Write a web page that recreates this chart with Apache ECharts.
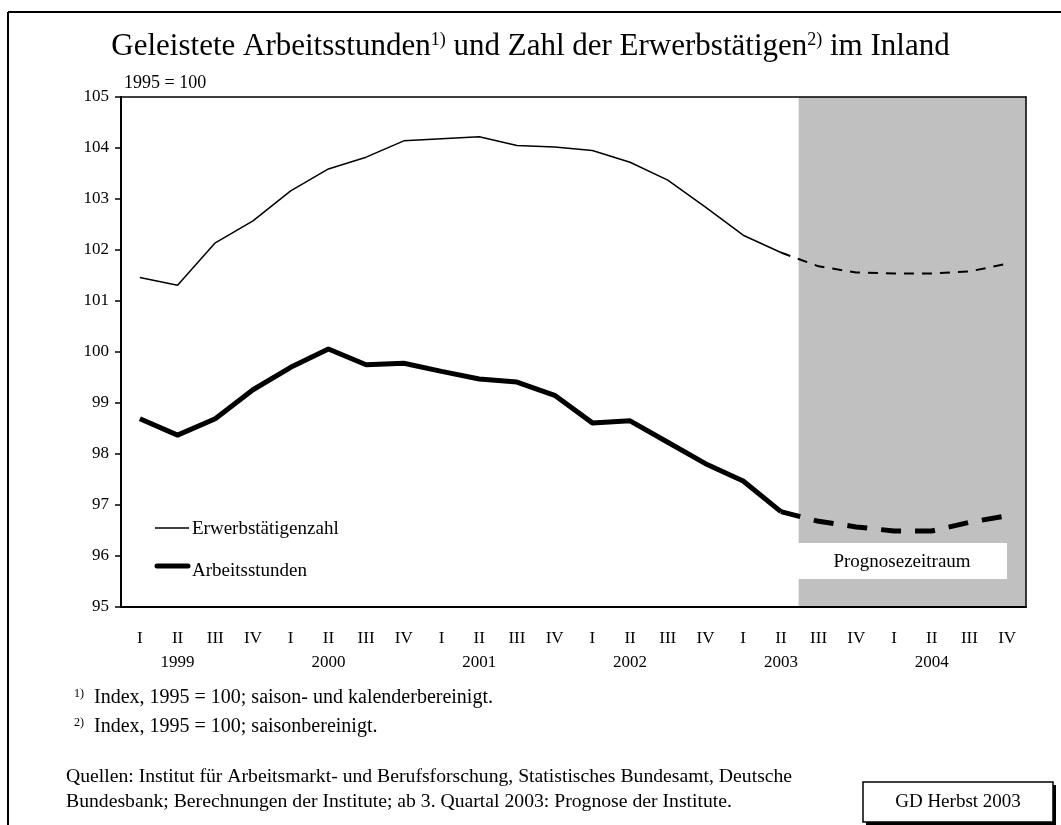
<!DOCTYPE html>
<html>
<head>
<meta charset="utf-8">
<script src="https://cdn.jsdelivr.net/npm/echarts@6/dist/echarts.min.js"></script>
<style>
  html, body { margin: 0; padding: 0; background: #fff; }
  #chart { width: 1061px; height: 825px; }
</style>
</head>
<body>
<div id="chart"></div>
<script>
var years = ['1999', '2000', '2001', '2002', '2003', '2004'];
var quarters = ['I', 'II', 'III', 'IV'];
var categories = [];
years.forEach(function (y) {
  quarters.forEach(function (q) { categories.push(y + ' ' + q); });
});

// Erwerbstätigenzahl, Index 1995 = 100
var erwerbstaetige = [101.46, 101.31, 102.14, 102.57, 103.16, 103.59, 103.82, 104.14,
  104.18, 104.22, 104.05, 104.02, 103.95, 103.72, 103.37, 102.84,
  102.29, 101.95, 101.68, 101.56, 101.54, 101.54, 101.58, 101.73];
// Arbeitsstunden, Index 1995 = 100
var arbeitsstunden = [98.69, 98.37, 98.69, 99.26, 99.70, 100.06, 99.75, 99.78,
  99.62, 99.47, 99.41, 99.15, 98.61, 98.65, 98.23, 97.81,
  97.47, 96.87, 96.68, 96.57, 96.49, 96.49, 96.66, 96.79];

var lastActual = 17; // 2003 II, danach Prognose

function part(arr, from, to) {
  return arr.map(function (v, i) { return (i >= from && i <= to) ? v : '-'; });
}
// grau hinterlegter Prognosezeitraum
var prognose = categories.map(function (c, i) { return i > lastActual ? 105 : '-'; });

var serif = '"Liberation Serif", "Times New Roman", serif';
var chart = echarts.init(document.getElementById('chart'));

var option = {
  backgroundColor: '#fff',
  animation: false,
  textStyle: { fontFamily: serif, color: '#000' },
  title: {
    text: 'Geleistete Arbeitsstunden{s|1)} und Zahl der Erwerbstätigen{s|2)} im Inland',
    left: 'center',
    top: 26,
    textStyle: {
      fontFamily: serif, fontSize: 31, fontWeight: 'normal', color: '#000',
      rich: { s: { fontFamily: serif, fontSize: 18, verticalAlign: 'top', color: '#000' } }
    }
  },
  grid: { left: 121, right: 35, top: 97, bottom: 218 },
  xAxis: [{
    type: 'category',
    data: categories,
    boundaryGap: true,
    axisLine: { lineStyle: { color: '#000', width: 2 } },
    axisTick: { lineStyle: { color: '#000', width: 1.5 }, length: 6 },
    axisLabel: {
      interval: 0,
      margin: 20,
      fontFamily: serif,
      fontSize: 17,
      color: '#000',
      lineHeight: 24,
      formatter: function (v) {
        var p = v.split(' ');
        return p[1] === 'II' ? p[1] + '\n' + p[0] : p[1] + '\n ';
      }
    },
    z: 5
  }, {
    type: 'category',
    position: 'top',
    data: categories,
    axisLine: { lineStyle: { color: '#000', width: 1.5 } },
    axisTick: { show: false },
    axisLabel: { show: false },
    z: 5
  }],
  yAxis: [{
    type: 'value',
    min: 95,
    max: 105,
    interval: 1,
    splitLine: { show: false },
    axisLine: { show: true, lineStyle: { color: '#000', width: 2 } },
    axisTick: { show: true, lineStyle: { color: '#000', width: 1.5 }, length: 6 },
    axisLabel: { fontFamily: serif, fontSize: 17, color: '#000', margin: 12 },
    z: 5
  }, {
    type: 'value',
    position: 'right',
    min: 95,
    max: 105,
    interval: 1,
    splitLine: { show: false },
    axisLine: { show: true, lineStyle: { color: '#000', width: 1.5 } },
    axisTick: { show: false },
    axisLabel: { show: false },
    z: 5
  }],
  series: [{
    name: 'Prognosezeitraum',
    type: 'bar',
    data: prognose,
    barWidth: '106%',
    silent: true,
    itemStyle: { color: '#c0c0c0' },
    z: 1
  }, {
    name: 'Erwerbstätigenzahl',
    type: 'line',
    data: part(erwerbstaetige, 0, lastActual),
    symbol: 'none',
    lineStyle: { color: '#000', width: 1.5 },
    z: 3
  }, {
    name: 'Erwerbstätigenzahl Prognose',
    type: 'line',
    data: part(erwerbstaetige, lastActual, 23),
    symbol: 'none',
    lineStyle: { color: '#000', width: 2, type: [10, 8] },
    z: 3
  }, {
    name: 'Arbeitsstunden',
    type: 'line',
    data: part(arbeitsstunden, 0, lastActual),
    symbol: 'none',
    lineStyle: { color: '#000', width: 5 },
    z: 3
  }, {
    name: 'Arbeitsstunden Prognose',
    type: 'line',
    data: part(arbeitsstunden, lastActual, 23),
    symbol: 'none',
    lineStyle: { color: '#000', width: 5, type: [20, 14] },
    z: 3
  }],
  graphic: [
    // Rahmen
    { type: 'line', shape: { x1: 8, y1: 12, x2: 1061, y2: 12 }, style: { stroke: '#000', lineWidth: 2 } },
    { type: 'line', shape: { x1: 8, y1: 12, x2: 8, y2: 825 }, style: { stroke: '#000', lineWidth: 2 } },
    { type: 'text', left: 124, top: 74, style: { text: '1995 = 100', font: '18px ' + serif, fill: '#000' } },
    // Legende
    { type: 'line', shape: { x1: 155, y1: 528, x2: 189, y2: 528 }, style: { stroke: '#000', lineWidth: 1.5 }, z: 10 },
    { type: 'text', left: 192, top: 520, style: { text: 'Erwerbstätigenzahl', font: '19px ' + serif, fill: '#000' }, z: 10 },
    { type: 'line', shape: { x1: 157, y1: 566, x2: 188, y2: 566 }, style: { stroke: '#000', lineWidth: 5, lineCap: 'round' }, z: 10 },
    { type: 'text', left: 192, top: 562, style: { text: 'Arbeitsstunden', font: '19px ' + serif, fill: '#000' }, z: 10 },
    // Prognosezeitraum
    { type: 'rect', shape: { x: 798, y: 543, width: 209, height: 36 }, style: { fill: '#fff' }, z: 10 },
    { type: 'text', x: 902, y: 562, style: { text: 'Prognosezeitraum', font: '19px ' + serif, fill: '#000', align: 'center', verticalAlign: 'middle' }, z: 11 },
    // Fußnoten
    { type: 'text', left: 74, top: 688, style: { text: '{s|1)}  Index, 1995 = 100; saison- und kalenderbereinigt.', font: '20px ' + serif, fill: '#000',
      rich: { s: { fontSize: 12, fontFamily: serif, verticalAlign: 'top' } } } },
    { type: 'text', left: 74, top: 717, style: { text: '{s|2)}  Index, 1995 = 100; saisonbereinigt.', font: '20px ' + serif, fill: '#000',
      rich: { s: { fontSize: 12, fontFamily: serif, verticalAlign: 'top' } } } },
    { type: 'text', left: 66, top: 764, style: { text: 'Quellen: Institut für Arbeitsmarkt- und Berufsforschung, Statistisches Bundesamt, Deutsche\nBundesbank; Berechnungen der Institute; ab 3. Quartal 2003: Prognose der Institute.', font: '19.7px ' + serif, fill: '#000', lineHeight: 25 } },
    // GD Herbst 2003
    { type: 'rect', shape: { x: 866, y: 785, width: 190, height: 40 }, style: { fill: '#000' } },
    { type: 'rect', shape: { x: 863, y: 782, width: 190, height: 40 }, style: { fill: '#fff', stroke: '#000', lineWidth: 1.5 } },
    { type: 'text', x: 958, y: 802, style: { text: 'GD Herbst 2003', font: '19px ' + serif, fill: '#000', align: 'center', verticalAlign: 'middle' } }
  ]
};
chart.setOption(option);
</script>
</body>
</html>
